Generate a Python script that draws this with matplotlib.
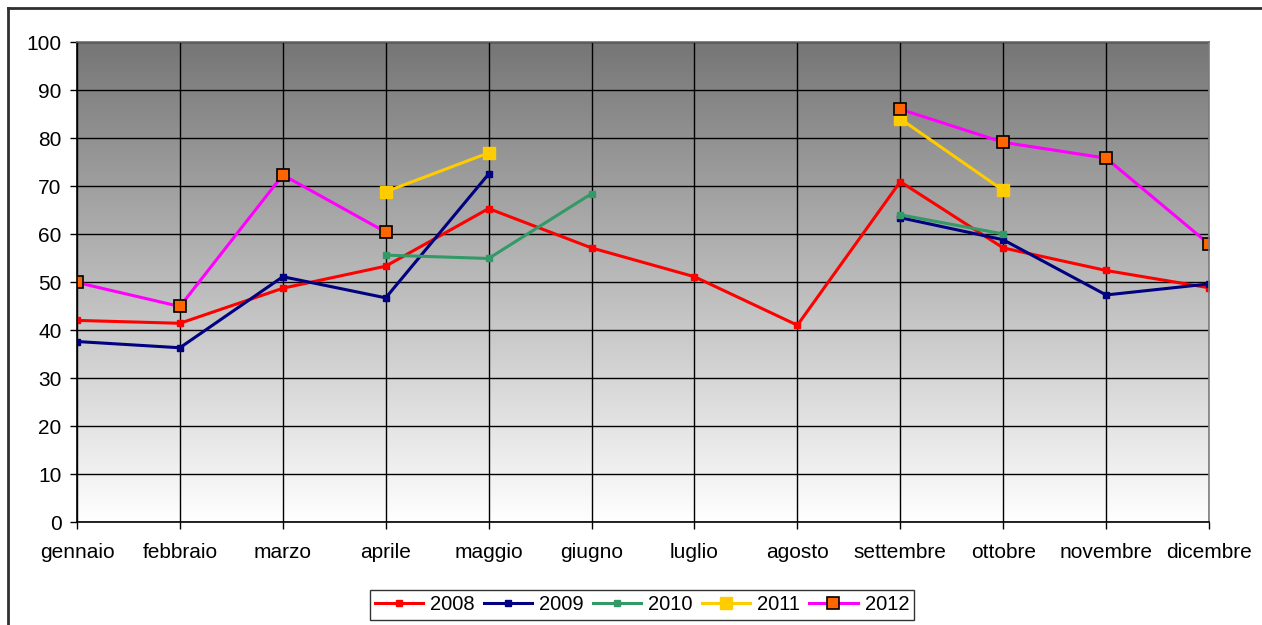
import numpy as np
import matplotlib
matplotlib.use("Agg")
import matplotlib.pyplot as plt
from matplotlib.lines import Line2D
from matplotlib.colors import LinearSegmentedColormap

plt.rcParams['font.family'] = ['Liberation Sans', 'DejaVu Sans']

months = ["gennaio", "febbraio", "marzo", "aprile", "maggio", "giugno",
          "luglio", "agosto", "settembre", "ottobre", "novembre", "dicembre"]
nan = np.nan
y2008 = [42.0, 41.4, 48.7, 53.3, 65.3, 57.1, 51.1, 41.0, 70.9, 57.1, 52.4, 48.8]
y2009 = [37.6, 36.3, 51.1, 46.7, 72.5, nan, nan, nan, 63.4, 58.8, 47.3, 49.6]
y2010 = [nan, nan, nan, 55.6, 54.9, 68.4, nan, nan, 64.0, 60.0, nan, nan]
y2011 = [nan, nan, nan, 68.8, 76.9, nan, nan, nan, 84.0, 69.1, nan, nan]
y2012 = [49.9, 44.9, 72.3, 60.4, nan, nan, nan, nan, 86.0, 79.1, 75.8, 57.9]
yticks = list(range(0, 101, 10))

W, H = 1262, 625
fig = plt.figure(figsize=(W / 100, H / 100), dpi=100)
ax = fig.add_axes([77 / W, (H - 522) / H, (1209 - 77) / W, (522 - 42) / H])

# gradient background
grad = np.linspace(0, 1, 256).reshape(-1, 1)
cmap = LinearSegmentedColormap.from_list("g", ["#ffffff", "#767676"])
ax.imshow(grad, aspect="auto", cmap=cmap, origin="lower",
          extent=[0, 1, 0, 1], transform=ax.transAxes, zorder=0)

x = np.arange(len(months))
ax.plot(x, y2008, color="#ff0000", lw=2.2, marker="s", ms=4, label="2008", zorder=3)
ax.plot(x, y2009, color="#000080", lw=2.2, marker="s", ms=4, label="2009", zorder=3)
ax.plot(x, y2010, color="#339966", lw=2.2, marker="s", ms=4, label="2010", zorder=3)
ax.plot(x, y2011, color="#ffcc00", lw=2.2, marker="s", ms=9, label="2011", zorder=4)
ax.plot(x, y2012, color="#ff00ff", lw=2.2, marker="s", ms=8, mfc="#ff6600",
        mec="#000000", mew=1.2, label="2012", zorder=5)

ax.set_xlim(0, 11)
ax.set_ylim(0, 100)
ax.set_xticks(x)
ax.set_xticklabels(months, fontsize=15)
ax.set_yticks(yticks)
ax.set_yticklabels([str(v) for v in yticks], fontsize=15)
ax.tick_params(axis="both", direction="out", length=5, width=1, color="black")
ax.tick_params(axis="x", pad=10)
ax.tick_params(axis="y", pad=6)
ax.grid(True, color="black", lw=1)
ax.set_axisbelow(False)
for l in ax.get_xgridlines() + ax.get_ygridlines():
    l.set_zorder(1)
ax.spines["left"].set_color("black")
ax.spines["bottom"].set_color("black")
ax.spines["top"].set_color("#707070")
ax.spines["right"].set_color("#808080")
for s in ax.spines.values():
    s.set_linewidth(1.2)
    s.set_zorder(6)

leg = ax.legend(loc="center", bbox_to_anchor=(642 / W, (H - 605) / H),
                bbox_transform=fig.transFigure, ncol=5, fontsize=14.5,
                frameon=True, fancybox=False, edgecolor="black",
                handlelength=2.4, handletextpad=0.35, columnspacing=0.45,
                borderpad=0.25, borderaxespad=0)
leg.get_frame().set_linewidth(1.0)

# outer chart border (left and top)
fig.add_artist(Line2D([8 / W, 8 / W], [0, (H - 8) / H], transform=fig.transFigure,
                      color="#303030", lw=2))
fig.add_artist(Line2D([8 / W, 1], [(H - 8) / H, (H - 8) / H], transform=fig.transFigure,
                      color="#303030", lw=2))

fig.savefig("out.png", dpi=100)
